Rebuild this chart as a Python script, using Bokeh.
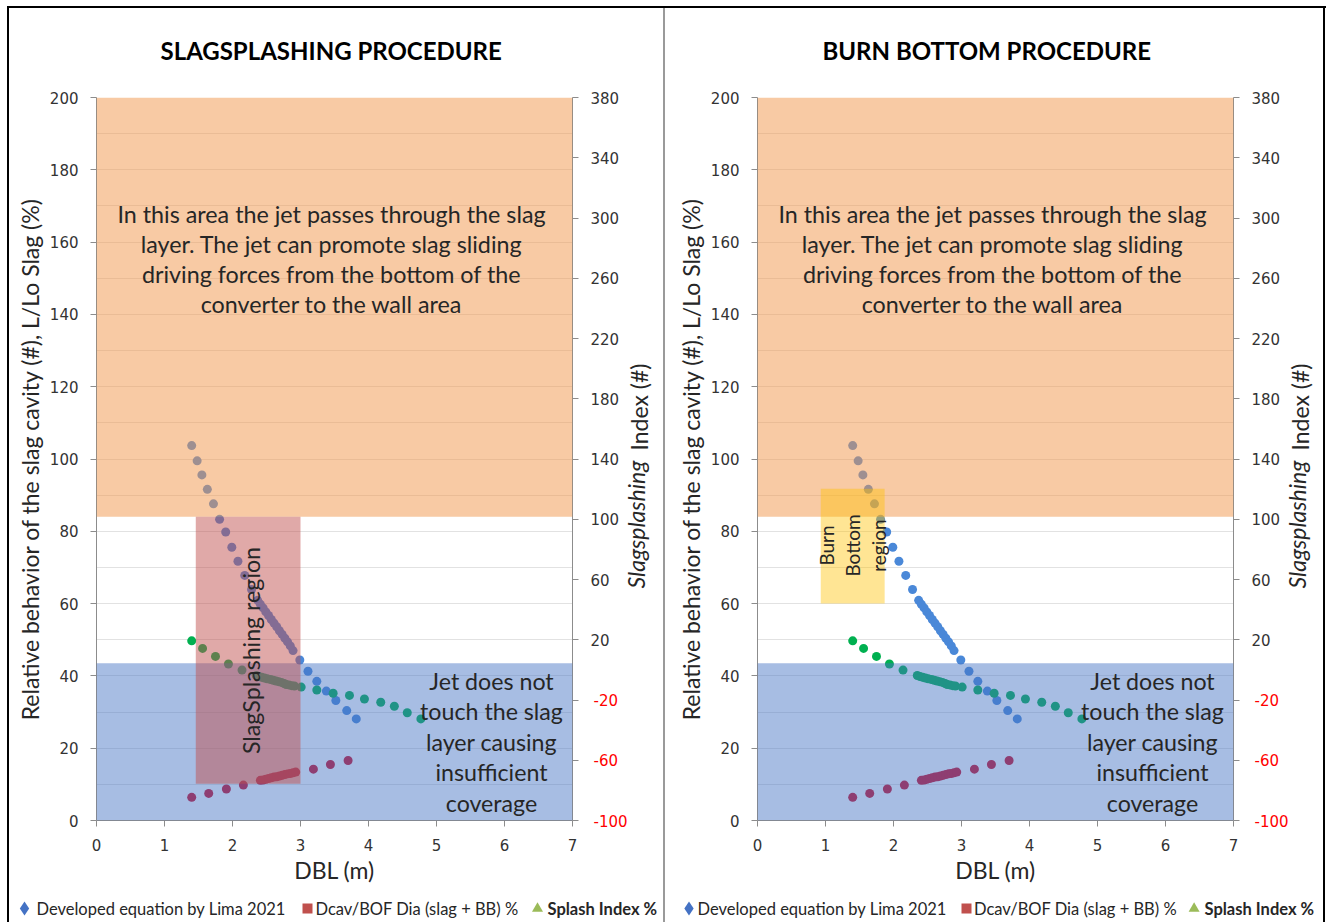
import math
from bokeh.plotting import figure
from bokeh.models import Range1d, LinearAxis, FixedTicker, Label, BoxAnnotation
from bokeh.layouts import row, column
from bokeh.embed import file_html
from bokeh.resources import INLINE

# ---------------- data ----------------
lima_dbl = [1.40, 1.48, 1.55, 1.63, 1.72, 1.81, 1.90, 1.99, 2.08, 2.18, 2.28,
            2.37, 2.41, 2.45, 2.49, 2.53, 2.57, 2.61, 2.65, 2.69, 2.73, 2.77,
            2.81, 2.85, 2.89, 2.99, 3.11, 3.24, 3.38, 3.52, 3.68, 3.82]
lima_val = [103.7, 99.5, 95.6, 91.6, 87.6, 83.3, 79.8, 75.6, 71.7, 67.8, 63.9,
            60.9, 59.8, 58.8, 57.7, 56.7, 55.6, 54.6, 53.6, 52.5, 51.5, 50.4,
            49.4, 48.3, 47.0, 44.4, 41.3, 38.5, 35.8, 33.2, 30.4, 28.1]

dcav_dbl = [1.40, 1.65, 1.91, 2.16, 2.41, 2.45, 2.49, 2.53, 2.57, 2.61, 2.65,
            2.69, 2.73, 2.77, 2.81, 2.85, 2.89, 2.93, 3.19, 3.44, 3.70]
dcav_val = [6.4, 7.5, 8.7, 9.8, 11.1, 11.2, 11.4, 11.6, 11.8, 12.0, 12.1,
            12.3, 12.5, 12.7, 12.9, 13.0, 13.2, 13.4, 14.2, 15.5, 16.6]

splash_dbl = [1.40, 1.56, 1.75, 1.94, 2.14, 2.35, 2.39, 2.43, 2.47, 2.51, 2.56,
              2.60, 2.64, 2.68, 2.72, 2.76, 2.79, 2.83, 2.87, 2.91, 3.01, 3.24,
              3.48, 3.72, 3.94, 4.18, 4.38, 4.57, 4.77]
splash_val = [49.7, 47.6, 45.4, 43.3, 41.6, 40.1, 39.8, 39.6, 39.4, 39.2, 39.0,
              38.8, 38.6, 38.4, 38.2, 37.9, 37.6, 37.5, 37.3, 37.2, 36.9, 36.1,
              35.2, 34.6, 33.6, 32.7, 31.6, 29.8, 28.1]

x_ticks = [0, 1, 2, 3, 4, 5, 6, 7]
left_ticks = [0, 20, 40, 60, 80, 100, 120, 140, 160, 180, 200]
grid_ticks = [0, 10, 20, 30, 40, 50, 60, 70, 80, 90, 100, 110, 120, 130, 140,
              150, 160, 170, 180, 190, 200]
right_ticks = [-100, -60, -20, 20, 60, 100, 140, 180, 220, 260, 300, 340, 380]

titles = ["SLAGSPLASHING PROCEDURE", "BURN BOTTOM PROCEDURE"]
legend_labels = ["Developed equation by Lima 2021", "Dcav/BOF Dia (slag + BB) %", "Splash Index %"]
right_title = ["Slagsplashing", "Index (#)"]

# zones
jet_zone = (84.0, 200.0)
nojet_zone = (0.0, 43.5)
splash_region = (1.46, 3.0, 10.2, 84.0)   # left, right, bottom, top
burn_region = (0.93, 1.87, 60.0, 91.8)

# ---------------- styles ----------------
FW, FH = 476, 723
TOP = 97
H_MAIN = 892
H_LEG = 30
XS = FW / 7.0
YS = FH / 200.0
TXT = "#262626"
TICK = "#333333"
AXC = "#8C8C8C"
C_BLUE = "#4A88D8"
C_RED = "#D0102A"
C_GREEN = "#00B050"
FONT = "Lato"
NUMF = "DejaVu Sans"
W_LEFT = 670
W_RIGHT = 1331 - W_LEFT


def idx_at(py):
    # value of the right (index) scale at a pixel row of the frame
    return (TOP + FH - py) * 480.0 / FH - 100.0


def make_panel(idx, width, frame_left, title_offset, leg_shift=0):
    p = figure(width=width, height=H_MAIN, x_range=Range1d(0, 7), y_range=Range1d(0, 200),
               output_backend="svg", toolbar_location=None,
               min_border_left=frame_left, min_border_right=width - frame_left - FW,
               min_border_top=TOP, min_border_bottom=H_MAIN - TOP - FH)
    p.extra_y_ranges = {"idx": Range1d(-100, 380)}
    p.outline_line_color = None
    p.background_fill_color = "white"
    p.border_fill_color = None
    p.xgrid.visible = False
    p.ygrid.ticker = FixedTicker(ticks=grid_ticks)
    p.ygrid.grid_line_color = "#E2E2E2"

    # title
    p.title.text = titles[idx]
    p.title.align = "left"
    p.title.offset = title_offset
    p.title.standoff = 66
    p.title.text_font = FONT
    p.title.text_font_size = "24px"
    p.title.text_font_style = "bold"
    p.title.text_color = "black"

    def px2x(px):
        return (px - frame_left) / XS

    def px2y(py):
        return (TOP + FH - py) / YS

    # axes
    xa = p.xaxis[0]
    xa.ticker = FixedTicker(ticks=x_ticks)
    ya = p.yaxis[0]
    ya.ticker = FixedTicker(ticks=left_ticks)
    ra = LinearAxis(y_range_name="idx", ticker=FixedTicker(ticks=right_ticks),
                    major_label_overrides={t: "" for t in right_ticks if t < 0})
    p.add_layout(ra, "right")
    neg_over = {}
    for t in right_ticks:
        neg_over[t] = str(t) if t < 0 else ""
    rb = LinearAxis(y_range_name="idx", ticker=FixedTicker(ticks=right_ticks),
                    major_label_overrides=neg_over)
    p.add_layout(rb, "right")
    t1 = round(idx_at(588), 2)
    t2 = round(idx_at(450), 2)
    rc = LinearAxis(y_range_name="idx", ticker=FixedTicker(ticks=[t1]),
                    major_label_overrides={t1: right_title[0]})
    p.add_layout(rc, "right")
    rd = LinearAxis(y_range_name="idx", ticker=FixedTicker(ticks=[t2]),
                    major_label_overrides={t2: right_title[1]})
    p.add_layout(rd, "right")
    for ax in (xa, ya, ra, rb, rc, rd):
        ax.axis_line_color = AXC
        ax.major_tick_line_color = AXC
        ax.major_tick_out = 6
        ax.major_tick_in = 0
        ax.minor_tick_out = 0
        ax.minor_tick_in = 0
        ax.major_label_text_font = NUMF
        ax.major_label_text_font_size = "15px"
        ax.major_label_text_color = TICK
        ax.major_label_standoff = 12
        ax.axis_label_text_font = FONT
        ax.axis_label_text_font_style = "normal"
        ax.axis_label_text_font_size = "23px"
        ax.axis_label_text_color = TXT
    for ax in (rb, rc, rd):
        ax.axis_line_color = None
        ax.major_tick_out = 0
    rb.major_label_text_color = "#FF0000"
    rb.major_label_standoff = -29
    for ax in (rc, rd):
        ax.major_label_text_font = FONT
        ax.major_label_text_font_size = "23px"
        ax.major_label_text_color = TXT
        ax.major_label_orientation = math.pi / 2
    rc.major_label_text_font_style = "italic"
    rc.major_label_standoff = 6
    rd.major_label_standoff = -28
    xa.axis_label = "DBL (m)"
    xa.axis_label_standoff = 2
    ya.axis_label = "Relative behavior of the slag cavity (#), L/Lo Slag (%)"
    ya.axis_label_standoff = 3

    # data points
    p.scatter(lima_dbl, lima_val, size=9, fill_color=C_BLUE, line_color=None)
    p.scatter(splash_dbl, splash_val, size=9, fill_color=C_GREEN, line_color=None)
    p.scatter(dcav_dbl, dcav_val, size=9, fill_color=C_RED, line_color=None)

    # zones (over the points, semi transparent)
    p.add_layout(BoxAnnotation(left=0, right=7, bottom=jet_zone[0], top=jet_zone[1],
                               fill_color="#F1964A", fill_alpha=0.5, line_color=None))
    p.add_layout(BoxAnnotation(left=0, right=7, bottom=nojet_zone[0], top=nojet_zone[1],
                               fill_color="#4472C4", fill_alpha=0.47, line_color=None))
    if idx == 0:
        l, r, b, t = splash_region
        p.add_layout(BoxAnnotation(left=l, right=r, bottom=b, top=t,
                                   fill_color="#C0504D", fill_alpha=0.49, line_color=None))
    else:
        l, r, b, t = burn_region
        p.add_layout(BoxAnnotation(left=l, right=r, bottom=b, top=t,
                                   fill_color="#FFC000", fill_alpha=0.42, line_color=None))

    def lab(px, py, text, size, align="center", angle=0):
        p.add_layout(Label(x=px2x(px), y=px2y(py), text=text, text_font=FONT,
                           text_font_size=f"{size}px", text_color=TXT,
                           text_align=align, text_baseline="middle", angle=angle))

    cx = frame_left + 235
    for i, line in enumerate(["In this area the jet passes through the slag",
                              "layer. The jet can promote slag sliding",
                              "driving forces from the bottom of the",
                              "converter to the wall area"]):
        lab(cx, 213 + 30 * i, line, 23.3)
    for i, line in enumerate(["Jet does not", "touch the slag", "layer causing",
                              "insufficient", "coverage"]):
        lab(frame_left + 395, 680 + 30.5 * i, line, 23.2)
    if idx == 0:
        lab(frame_left + 154, 650, "SlagSplashing region", 23.2, angle=math.pi / 2)
    else:
        for i, w in enumerate(["Burn", "Bottom", "region"]):
            lab(frame_left + 69 + 26 * i, 545, w, 19, angle=math.pi / 2)
    return p


# left frame spans x 96..572 and right frame 757..1233 of the page
p1 = make_panel(0, W_LEFT, 96, 64)
p2 = make_panel(1, W_RIGHT, 757 - W_LEFT, 65)

# ---------------- legend strip (pixel coordinates) ----------------
leg = figure(width=1331, height=H_LEG, x_range=Range1d(0, 1331), y_range=Range1d(0, H_LEG),
             output_backend="svg", toolbar_location=None, title=None,
             x_axis_type=None, y_axis_type=None, min_border=0)
leg.outline_line_color = None
leg.background_fill_color = None
leg.border_fill_color = None
leg.grid.visible = False
LY = H_LEG - 16
leg_marker_x = [24, 307, 537, 688.5, 966, 1193.6]
leg_text_x = [36, 315, 547, 697, 973.5, 1204]
markers = ["diamond", "square", "triangle"]
mcolors = ["#4472C4", "#C0504D", "#9BBB59"]
msizes = [14, 10, 11]
for k in range(6):
    j = k % 3
    leg.scatter([leg_marker_x[k]], [LY], marker=markers[j], size=msizes[j],
                fill_color=mcolors[j], line_color=None)
    leg.add_layout(Label(x=leg_text_x[k], y=LY, text=legend_labels[j], text_font=FONT,
                         text_font_size="16.5px", text_color=TXT,
                         text_font_style="bold" if j == 2 else "normal",
                         text_align="left", text_baseline="middle"))

bg = ("linear-gradient(#000,#000) 7px 6px / 2px 916px no-repeat, "
      "linear-gradient(#000,#000) 7px 6px / 1319px 2px no-repeat, "
      "linear-gradient(#000,#000) 1323px 6px / 2px 916px no-repeat, "
      "linear-gradient(#9a9a9a,#9a9a9a) 663px 8px / 2px 914px no-repeat, "
      "white")
layout = column(row(p1, p2, spacing=0), leg, spacing=0, styles={"background": bg})
open("out.html", "w").write(file_html(layout, INLINE))
